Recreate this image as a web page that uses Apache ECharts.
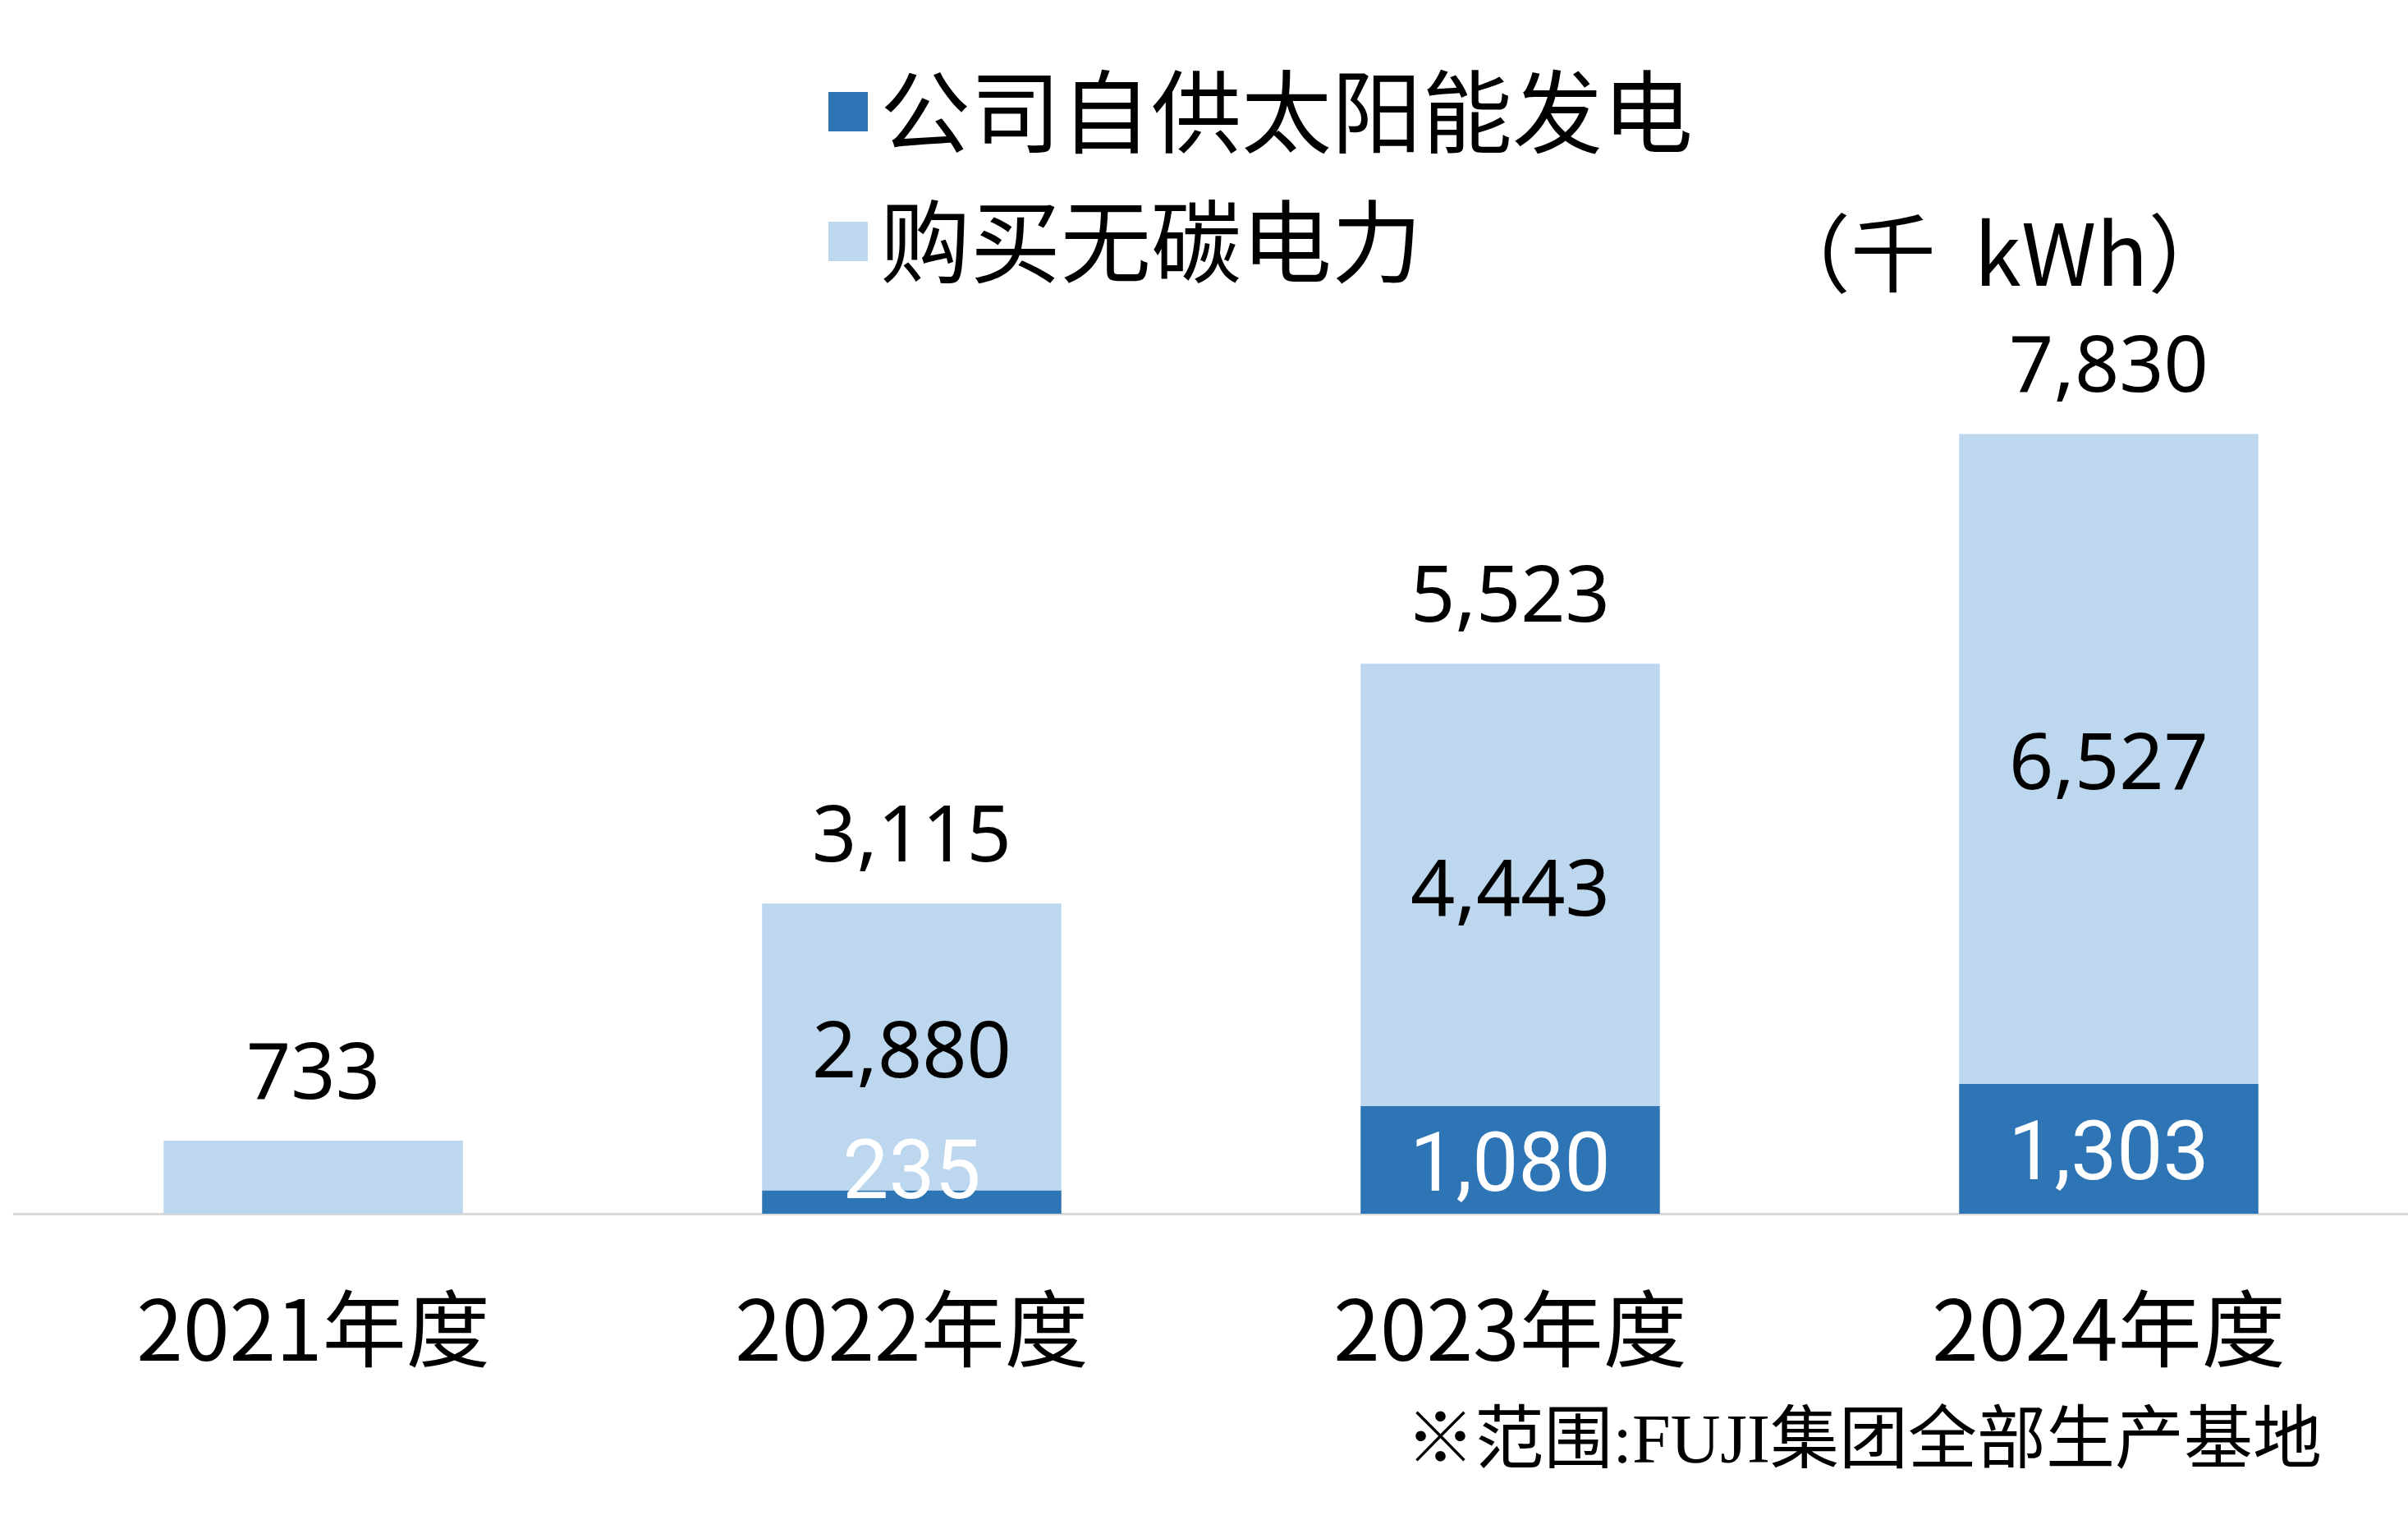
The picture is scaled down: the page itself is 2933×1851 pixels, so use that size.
<!DOCTYPE html>
<html>
<head>
<meta charset="utf-8">
<script src="https://cdn.jsdelivr.net/npm/echarts@6/dist/echarts.min.js"></script>
<style>
  html, body { margin: 0; padding: 0; background: #fff; }
  #chart { width: 2933px; height: 1851px; }
</style>
</head>
<body>
<div id="chart"></div>
<script>
var years = ['2021年度', '2022年度', '2023年度', '2024年度'];
var solarSelf = [0, 235, 1080, 1303];        // 公司自供太阳能发电
var greenBought = [733, 2880, 4443, 6527];   // 购买无碳电力
var totals = [733, 3115, 5523, 7830];
var seriesNames = ['公司自供太阳能发电', '购买无碳电力'];

var chart = echarts.init(document.getElementById('chart'));

function fmt(v) {
  return v.toLocaleString('en-US');
}

var solarData = solarSelf.map(function (v, i) {
  var item = { value: v };
  if (v === 0) item.label = { show: false };
  if (v === 235) item.label = { offset: [0, -30] };
  return item;
});

var greenData = greenBought.map(function (v, i) {
  var item = { value: v };
  if (i === 0) item.label = { show: false }; // only the total is shown for 2021
  return item;
});

option = {
  animation: false,
  grid: {
    left: 17,
    right: 0,
    top: 508,
    bottom: 373
  },
  legend: {
    data: seriesNames,
    orient: 'vertical',
    left: 1004,
    top: 76,
    itemWidth: 48,
    itemHeight: 48,
    itemGap: 48,
    icon: 'rect',
    textStyle: {
      fontFamily: 'Noto Sans CJK SC',
      fontSize: 110,
      lineHeight: 110,
      color: '#000',
      padding: [0, 0, 0, 10]
    }
  },
  xAxis: {
    type: 'category',
    data: years,
    axisLine: { lineStyle: { color: '#d9d9d9', width: 3 } },
    axisTick: { show: false },
    axisLabel: {
      fontFamily: 'Noto Sans CJK SC',
      fontSize: 102,
      lineHeight: 102,
      color: '#000',
      margin: 89
    }
  },
  yAxis: {
    type: 'value',
    min: 0,
    max: 8000,
    show: false,
    splitLine: { show: false }
  },
  series: [
    {
      name: seriesNames[0],
      type: 'bar',
      stack: 'total',
      barWidth: '50%',
      itemStyle: { color: '#2E75B6' },
      label: {
        show: true,
        position: 'inside',
        offset: [0, 12],
        color: '#fff',
        fontFamily: 'Roboto',
        fontSize: 100,
        formatter: function (p) { return fmt(p.value); }
      },
      data: solarData
    },
    {
      name: seriesNames[1],
      type: 'bar',
      stack: 'total',
      barWidth: '50%',
      itemStyle: { color: '#BDD7EE' },
      label: {
        show: true,
        position: 'inside',
        offset: [0, 10],
        color: '#000',
        fontFamily: 'Noto Sans',
        fontSize: 95,
        formatter: function (p) { return fmt(p.value); }
      },
      data: greenData
    },
    {
      name: 'total',
      type: 'bar',
      barWidth: '50%',
      barGap: '-100%',
      z: 1,
      silent: true,
      itemStyle: { color: 'rgba(0,0,0,0)' },
      label: {
        show: true,
        position: 'top',
        distance: 31,
        color: '#000',
        fontFamily: 'Noto Sans',
        fontSize: 95,
        lineHeight: 95,
        formatter: function (p) { return fmt(p.value); }
      },
      data: totals
    }
  ],
  graphic: [
    {
      type: 'text',
      left: 2150,
      top: 256,
      style: {
        text: '（千  kWh）',
        fontFamily: 'Noto Sans CJK SC',
        fontSize: 104,
        fill: '#000'
      }
    },
    {
      type: 'text',
      right: 105,
      top: 1717,
      style: {
        text: '※范围:FUJI集团全部生产基地',
        fontFamily: '"Liberation Serif", "Noto Sans CJK SC"',
        fontSize: 84,
        fill: '#000'
      }
    }
  ]
};

chart.setOption(option);
</script>
</body>
</html>
